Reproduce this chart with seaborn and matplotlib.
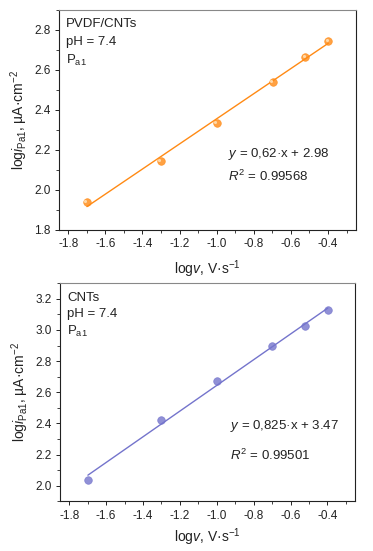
import numpy as np
import pandas as pd
import matplotlib
matplotlib.use("Agg")
import matplotlib.pyplot as plt
from matplotlib.ticker import MultipleLocator
import seaborn as sns

# ---- data ----
log_v = [-1.699, -1.301, -1.0, -0.699, -0.523, -0.398]
pvdf_log_i = [1.94, 2.145, 2.335, 2.54, 2.665, 2.745]
cnt_log_i = [2.035, 2.425, 2.675, 2.895, 3.025, 3.125]
panel_names = ["PVDF/CNTs", "CNTs"]
eq_texts = [r"$y$ = 0,62·x + 2.98", r"$y$ = 0,825·x + 3.47"]
r2_texts = [r"$R^2$ = 0.99568", r"$R^2$ = 0.99501"]
colors = ["#FF8A14", "#7474CC"]
ylims = [(1.8, 2.9), (1.9, 3.3)]
yticks = [[1.8, 2.0, 2.2, 2.4, 2.6, 2.8], [2.0, 2.2, 2.4, 2.6, 2.8, 3.0, 3.2]]
xticks = [-1.8, -1.6, -1.4, -1.2, -1.0, -0.8, -0.6, -0.4]

sns.set_theme(style="ticks")
plt.rcParams["font.family"] = ["Liberation Sans", "DejaVu Sans"]
plt.rcParams["mathtext.fontset"] = "custom"
plt.rcParams["mathtext.rm"] = "Liberation Sans"
plt.rcParams["mathtext.it"] = "Liberation Sans:italic"
plt.rcParams["mathtext.bf"] = "Liberation Sans:bold"

fig = plt.figure(figsize=(3.73, 5.51), dpi=100)
axes = [fig.add_axes([0.158, 0.583, 0.796, 0.399]),
        fig.add_axes([0.161, 0.09, 0.791, 0.396])]

datasets = [pvdf_log_i, cnt_log_i]
eq_pos = [(0.57, 0.345), (0.575, 0.345)]
r2_pos = [(0.57, 0.245), (0.575, 0.21)]
ann_y = [(0.935, 0.855, 0.77), (0.93, 0.86, 0.78)]
xlab_pad = [6, 3]

TXT = "#222222"
for k, ax in enumerate(axes):
    df = pd.DataFrame({"x": log_v, "y": datasets[k]})
    sns.regplot(data=df, x="x", y="y", ax=ax, ci=None, truncate=True,
                color=colors[k],
                scatter_kws=dict(s=30, edgecolor=colors[k], linewidths=0.5, zorder=3),
                line_kws=dict(lw=1.0, zorder=2))
    if k == 0:
        ax.scatter(np.array(log_v) - 0.008, np.array(datasets[k]) + 0.006, s=5,
                   color="#FFD9A8", zorder=4, linewidths=0)
    ax.set_xlim(-1.85, -0.25)
    ax.set_ylim(*ylims[k])
    ax.set_xticks(xticks)
    ax.set_xticklabels([f"{t:.1f}" for t in xticks])
    ax.set_yticks(yticks[k])
    ax.set_yticklabels([f"{t:.1f}" for t in yticks[k]])
    ax.xaxis.set_minor_locator(MultipleLocator(0.1))
    ax.yaxis.set_minor_locator(MultipleLocator(0.1))
    ax.tick_params(which="major", direction="out", length=3, width=0.7,
                   labelsize=8.5, pad=3, color=TXT, labelcolor=TXT)
    ax.tick_params(which="minor", direction="out", length=2, width=0.6, color=TXT)
    for sp in ax.spines.values():
        sp.set_linewidth(0.8)
        sp.set_color(TXT)
    ax.spines["top"].set_color("#888888")
    ax.set_xlabel(r"log$v$, V·s$^{-1}$", fontsize=10, labelpad=xlab_pad[k], color=TXT)
    ax.set_ylabel(r"log$i_{\rm Pa1}$, µA·cm$^{-2}$", fontsize=10, labelpad=3, color=TXT)
    ax.text(0.025, ann_y[k][0], panel_names[k], transform=ax.transAxes, fontsize=9.5,
            va="center", ha="left", color=TXT)
    ax.text(0.025, ann_y[k][1], "pH = 7.4", transform=ax.transAxes, fontsize=9.5,
            va="center", ha="left", color=TXT)
    ax.text(0.025, ann_y[k][2], r"P$_{\rm a1}$", transform=ax.transAxes, fontsize=9.5,
            va="center", ha="left", color=TXT)
    ax.text(eq_pos[k][0], eq_pos[k][1], eq_texts[k], transform=ax.transAxes,
            fontsize=9.5, va="center", ha="left", color=TXT)
    ax.text(r2_pos[k][0], r2_pos[k][1], r2_texts[k], transform=ax.transAxes,
            fontsize=9.5, va="center", ha="left", color=TXT)

fig.savefig("out.png", dpi=100)
